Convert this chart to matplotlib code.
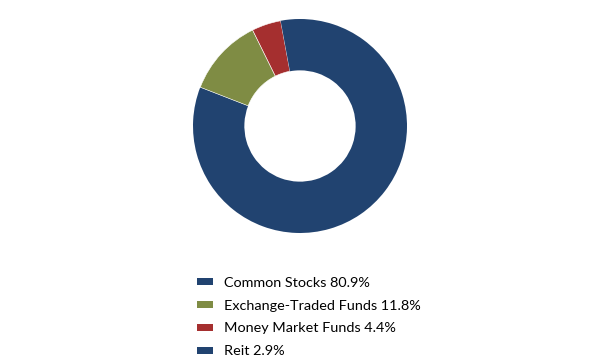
import matplotlib
matplotlib.use("Agg")
import matplotlib.pyplot as plt
from matplotlib.patches import Patch

labels = ["Common Stocks", "Exchange-Traded Funds", "Money Market Funds", "Reit"]
values = [80.9, 11.8, 4.4, 2.9]
colors = ["#214370", "#7F8C44", "#A52F2F", "#214370"]

plt.rcParams['font.family'] = ['Lato', 'DejaVu Sans']

fig = plt.figure(figsize=(6, 3.6), dpi=100)
ax = fig.add_axes([193 / 600, 127 / 360, 214 / 600, 214 / 360])
wedges, _ = ax.pie(values, colors=colors, startangle=90, counterclock=False,
                   wedgeprops=dict(width=0.48, linewidth=0))
# thin white seams, except where the two blue slices meet at the top
for w in wedges[1:3]:
    w.set_edgecolor('white')
    w.set_linewidth(0.4)
ax.set_xlim(-1, 1)
ax.set_ylim(-1, 1)
ax.set_aspect('equal')
ax.axis('off')

handles = [Patch(facecolor=c, edgecolor='none') for c in colors]
texts = ["{} {:.1f}%".format(l, v) for l, v in zip(labels, values)]
fig.legend(handles, texts, loc='upper left', bbox_to_anchor=(191 / 600, 1 - 271 / 360),
           frameon=False, fontsize=10.4, handlelength=1.1, handleheight=0.35,
           handletextpad=0.75, labelspacing=0.75, borderaxespad=0)

fig.savefig("out.png", dpi=100)
